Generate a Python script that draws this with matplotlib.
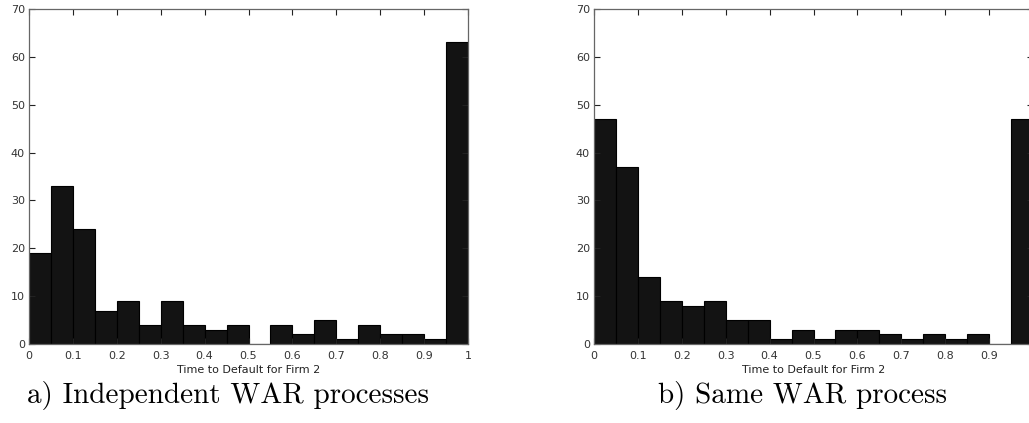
import numpy as np
import matplotlib
matplotlib.use("Agg")
import matplotlib.pyplot as plt

# histogram counts, 20 bins of width 0.05 on [0, 1]
bin_edges = np.linspace(0, 1, 21)
counts_indep = [19, 33, 24, 7, 9, 4, 9, 4, 3, 4, 0, 4, 2, 5, 1, 4, 2, 2, 1, 63]
counts_same = [47, 37, 14, 9, 8, 9, 5, 5, 1, 3, 1, 3, 3, 2, 1, 2, 1, 2, 0, 47]
captions = ["a) Independent WAR processes", "b) Same WAR process"]
xlabel = "Time to Default for Firm 2"
xticks = [0, 0.1, 0.2, 0.3, 0.4, 0.5, 0.6, 0.7, 0.8, 0.9, 1]
xtick_labels = ["0", "0.1", "0.2", "0.3", "0.4", "0.5", "0.6", "0.7", "0.8", "0.9", "1"]
yticks = [0, 10, 20, 30, 40, 50, 60, 70]

fig = plt.figure(figsize=(10.29, 4.23), dpi=100)
W, H = 1029, 423

# (left edge px, counts, caption, caption centre px, show last x label)
panels = [
    (29, counts_indep, captions[0], 228, True),
    (594, counts_same, captions[1], 802, False),
]

for left_px, counts, caption, cap_x, last_lbl in panels:
    ax = fig.add_axes([left_px / W, (H - 344) / H, 439 / W, 335 / H])
    ax.bar(bin_edges[:-1], counts, width=np.diff(bin_edges), align="edge",
           color="#131313", edgecolor="black", linewidth=0.8)
    ax.set_xlim(0, 1)
    ax.set_ylim(0, 70)
    ax.set_xticks(xticks)
    # right panel runs past the image edge, its "1" is not seen
    labels = xtick_labels if last_lbl else xtick_labels[:-1] + [""]
    ax.set_xticklabels(labels)
    ax.set_yticks(yticks)
    ax.tick_params(direction="in", length=4, width=0.8, top=True, right=True,
                   labelsize=8, labelcolor="#333333", color="#222222")
    ax.tick_params(axis="x", pad=5)
    ax.tick_params(axis="y", pad=3)
    for sp in ax.spines.values():
        sp.set_color("#666666")
        sp.set_linewidth(0.9)
    ax.set_xlabel(xlabel, fontsize=8, color="#222222", labelpad=3)
    fig.text(cap_x / W, 1 - 395 / H, caption, fontsize=21, family="cmr10",
             ha="center", va="center", color="black")

fig.savefig("out.png", dpi=100)
